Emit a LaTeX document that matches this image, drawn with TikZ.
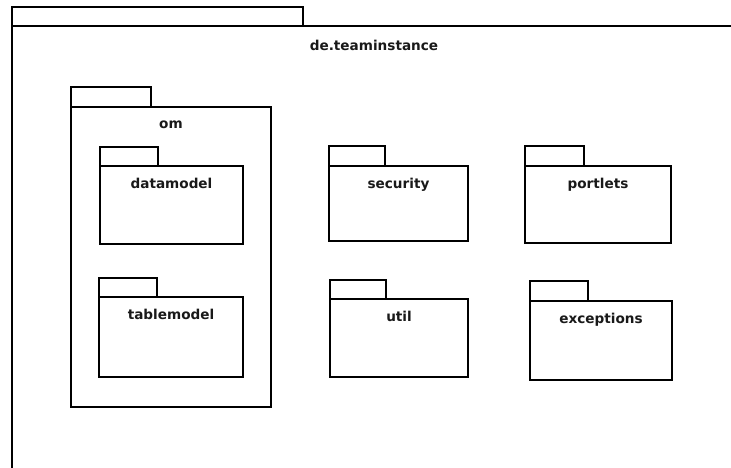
\documentclass[tikz,border=0pt]{standalone}
\usepackage{fontspec}
\setmainfont{DejaVu Sans}
\usetikzlibrary{fit}
\tikzset{
  pkgbody/.style={draw=black, line width=2pt, inner sep=0pt, fill=white},
  pkglabel/.style={font=\fontsize{13.6}{16}\selectfont\bfseries, anchor=base, inner sep=0pt, text=black!90}
}
\newcommand\umlpkg[8]{%
  % #1 name, #2 x1, #3 y1 (body top), #4 x2, #5 y2 (body bottom), #6 tab right, #7 tab top, #8 label
  \node[pkgbody, fit={(#2,#7) (#6,#3)}] (#1-tab) {};
  \node[pkgbody, fit={(#2,#3) (#4,#5)}] (#1) {};
  \node[pkglabel] (#1-label) at ([yshift=-23pt]#1.north) {#8};
}
\begin{document}
\begin{tikzpicture}[x=1pt,y=-1pt]
\useasboundingbox (0,0) rectangle (731,468);
\clip (0,0) rectangle (731,468);
\fill[white] (0,0) rectangle (731,468);
% outer package
\node[pkgbody, fit={(12,7) (303,26)}] (root-tab) {};
\node[pkgbody, fit={(12,26) (780,520)}] (root) {};
\node[pkglabel] (root-label) at (374,50.5) {de.teaminstance};
% om package
\umlpkg{om}{71}{107}{271}{407}{151}{87}{om}
\umlpkg{datamodel}{100}{166}{243}{244}{158}{147}{datamodel}
\umlpkg{tablemodel}{99}{297}{243}{377}{157}{278}{tablemodel}
% others
\umlpkg{security}{329}{166}{468}{241}{385}{146}{security}
\umlpkg{portlets}{525}{166}{671}{243}{584}{146}{portlets}
\umlpkg{util}{330}{299}{468}{377}{386}{280}{util}
\umlpkg{exceptions}{530}{301}{672}{380}{588}{281}{exceptions}
\end{tikzpicture}
\end{document}
